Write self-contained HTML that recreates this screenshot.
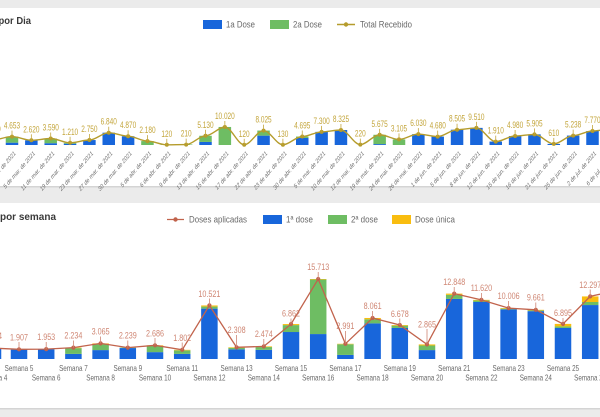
<!DOCTYPE html>
<html><head><meta charset="utf-8"><style>
html,body{margin:0;padding:0;background:#ebebeb;}
svg{display:block;font-family:"Liberation Sans",Arial,sans-serif;}
.tl{font-size:9px;fill:#c3a53a;text-anchor:middle;}
.bl{font-size:9px;fill:#cf8673;text-anchor:middle;}
.xl{font-size:6.8px;fill:#6e6e6e;text-anchor:end;}
.sl{font-size:8.4px;fill:#6a6a6a;text-anchor:middle;}
.lg{font-size:9px;fill:#6a6a6a;}
.tt{font-size:10.5px;font-weight:bold;fill:#3a3a3a;}
</style></head><body>
<svg width="600" height="417" viewBox="0 0 600 417" xmlns="http://www.w3.org/2000/svg">
<rect x="0" y="0" width="600" height="417" fill="#ebebeb"/>
<rect x="-2" y="8" width="610" height="178" fill="#ffffff"/>
<rect x="-2" y="186" width="610" height="1.5" fill="#d4d4d4"/>
<rect x="-2" y="203" width="610" height="205" fill="#ffffff"/>
<rect x="-2" y="408" width="610" height="1.5" fill="#d4d4d4"/>

<!-- ===== TOP CHART ===== -->
<text class="tt" x="-1.5" y="24" textLength="32.5" lengthAdjust="spacingAndGlyphs">por Dia</text>
<rect x="203" y="20" width="19" height="9" fill="#1866db"/>
<text class="lg" x="226" y="27.5" textLength="29" lengthAdjust="spacingAndGlyphs">1a Dose</text>
<rect x="270" y="20" width="19" height="9" fill="#6ebd63"/>
<text class="lg" x="293" y="27.5" textLength="29" lengthAdjust="spacingAndGlyphs">2a Dose</text>
<line x1="337" y1="24.5" x2="355" y2="24.5" stroke="#b59c2c" stroke-width="1.5"/>
<circle cx="346" cy="24.5" r="2.2" fill="#b59c2c"/>
<text class="lg" x="360" y="27.5" textLength="52" lengthAdjust="spacingAndGlyphs">Total Recebido</text>

<g fill="#1866db">
<rect x="5.75" y="142.66" width="12.5" height="2.34"/>
<rect x="25.1" y="140.28" width="12.5" height="4.72"/>
<rect x="44.45" y="143.2" width="12.5" height="1.8"/>
<rect x="63.8" y="143.74" width="12.5" height="1.26"/>
<rect x="83.15" y="140.05" width="12.5" height="4.95"/>
<rect x="102.5" y="132.69" width="12.5" height="12.31"/>
<rect x="121.85" y="136.23" width="12.5" height="8.77"/>
<rect x="199.25" y="141.94" width="12.5" height="3.06"/>
<rect x="257.3" y="135.64" width="12.5" height="9.36"/>
<rect x="296" y="137.98" width="12.5" height="7.02"/>
<rect x="315.35" y="131.86" width="12.5" height="13.14"/>
<rect x="334.7" y="130.01" width="12.5" height="14.99"/>
<rect x="373.4" y="144.1" width="12.5" height="0.9"/>
<rect x="412.1" y="134.15" width="12.5" height="10.85"/>
<rect x="431.45" y="136.58" width="12.5" height="8.42"/>
<rect x="450.8" y="129.69" width="12.5" height="15.31"/>
<rect x="470.15" y="127.88" width="12.5" height="17.12"/>
<rect x="489.5" y="141.56" width="12.5" height="3.44"/>
<rect x="508.85" y="136.04" width="12.5" height="8.96"/>
<rect x="528.2" y="134.37" width="12.5" height="10.63"/>
<rect x="547.55" y="143.9" width="12.5" height="1.1"/>
<rect x="566.9" y="135.57" width="12.5" height="9.43"/>
<rect x="586.25" y="131.01" width="12.5" height="13.99"/>
</g>
<g fill="#6ebd63">
<rect x="5.75" y="136.62" width="12.5" height="6.04"/>
<rect x="44.45" y="138.54" width="12.5" height="4.66"/>
<rect x="63.8" y="142.82" width="12.5" height="0.92"/>
<rect x="141.2" y="141.08" width="12.5" height="3.92"/>
<rect x="160.55" y="144.6" width="12.5" height="0.4"/>
<rect x="179.9" y="144.5" width="12.5" height="0.5"/>
<rect x="199.25" y="135.77" width="12.5" height="6.17"/>
<rect x="218.6" y="126.96" width="12.5" height="18.04"/>
<rect x="257.3" y="130.55" width="12.5" height="5.09"/>
<rect x="296" y="136.55" width="12.5" height="1.43"/>
<rect x="373.4" y="134.78" width="12.5" height="9.32"/>
<rect x="392.75" y="139.41" width="12.5" height="5.59"/>
</g>

<path fill="none" stroke="#b59c2c" stroke-width="1.4" d="M -7.35 139.9 C -0.9 139.9 5.55 136.6 12 136.6 S 24.9 140.3 31.35 140.3 S 44.25 138.5 50.7 138.5 S 63.6 142.8 70.05 142.8 S 82.95 140.0 89.4 140.0 S 102.3 132.7 108.75 132.7 S 121.65 136.2 128.1 136.2 S 141 141.1 147.45 141.1 S 160.35 144.8 166.8 144.8 S 179.7 144.6 186.15 144.6 S 199.05 135.8 205.5 135.8 S 218.4 127.0 224.85 127.0 S 237.75 144.8 244.2 144.8 S 257.1 130.6 263.55 130.6 S 276.45 144.8 282.9 144.8 S 295.8 136.5 302.25 136.5 S 315.15 131.9 321.6 131.9 S 334.5 130.0 340.95 130.0 S 353.85 144.6 360.3 144.6 S 373.2 134.8 379.65 134.8 S 392.55 139.4 399 139.4 S 411.9 134.1 418.35 134.1 S 431.25 136.6 437.7 136.6 S 450.6 129.7 457.05 129.7 S 469.95 127.9 476.4 127.9 S 489.3 141.6 495.75 141.6 S 508.65 136.0 515.1 136.0 S 528 134.4 534.45 134.4 S 547.35 143.9 553.8 143.9 S 566.7 135.6 573.15 135.6 S 586.05 131.0 592.5 131.0 S 605.4 129.0 611.85 129.0"/>
<g fill="#b59c2c">
<circle cx="12" cy="136.6" r="2"/><circle cx="31.35" cy="140.3" r="2"/><circle cx="50.7" cy="138.5" r="2"/><circle cx="70.05" cy="142.8" r="2"/><circle cx="89.4" cy="140" r="2"/><circle cx="108.75" cy="132.7" r="2"/><circle cx="128.1" cy="136.2" r="2"/><circle cx="147.45" cy="141.1" r="2"/><circle cx="166.8" cy="144.8" r="2"/><circle cx="186.15" cy="144.6" r="2"/><circle cx="205.5" cy="135.8" r="2"/><circle cx="224.85" cy="127" r="2"/><circle cx="244.2" cy="144.8" r="2"/><circle cx="263.55" cy="130.6" r="2"/><circle cx="282.9" cy="144.8" r="2"/><circle cx="302.25" cy="136.5" r="2"/><circle cx="321.6" cy="131.9" r="2"/><circle cx="340.95" cy="130" r="2"/><circle cx="360.3" cy="144.6" r="2"/><circle cx="379.65" cy="134.8" r="2"/><circle cx="399" cy="139.4" r="2"/><circle cx="418.35" cy="134.1" r="2"/><circle cx="437.7" cy="136.6" r="2"/><circle cx="457.05" cy="129.7" r="2"/><circle cx="476.4" cy="127.9" r="2"/><circle cx="495.75" cy="141.6" r="2"/><circle cx="515.1" cy="136" r="2"/><circle cx="534.45" cy="134.4" r="2"/><circle cx="553.8" cy="143.9" r="2"/><circle cx="573.15" cy="135.6" r="2"/><circle cx="592.5" cy="131" r="2"/>
</g>
<g stroke="#c3a53a" stroke-width="0.8">
<line x1="12" y1="130.6" x2="12" y2="136.6"/><line x1="31.35" y1="134.3" x2="31.35" y2="140.3"/><line x1="50.7" y1="132.5" x2="50.7" y2="138.5"/><line x1="70.05" y1="136.8" x2="70.05" y2="142.8"/><line x1="89.4" y1="134" x2="89.4" y2="140"/><line x1="108.75" y1="126.7" x2="108.75" y2="132.7"/><line x1="128.1" y1="130.2" x2="128.1" y2="136.2"/><line x1="147.45" y1="135.1" x2="147.45" y2="141.1"/><line x1="166.8" y1="138.8" x2="166.8" y2="144.8"/><line x1="186.15" y1="138.6" x2="186.15" y2="144.6"/><line x1="205.5" y1="129.8" x2="205.5" y2="135.8"/><line x1="224.85" y1="121" x2="224.85" y2="127"/><line x1="244.2" y1="138.8" x2="244.2" y2="144.8"/><line x1="263.55" y1="124.6" x2="263.55" y2="130.6"/><line x1="282.9" y1="138.8" x2="282.9" y2="144.8"/><line x1="302.25" y1="130.5" x2="302.25" y2="136.5"/><line x1="321.6" y1="125.9" x2="321.6" y2="131.9"/><line x1="340.95" y1="124" x2="340.95" y2="130"/><line x1="360.3" y1="138.6" x2="360.3" y2="144.6"/><line x1="379.65" y1="128.8" x2="379.65" y2="134.8"/><line x1="399" y1="133.4" x2="399" y2="139.4"/><line x1="418.35" y1="128.1" x2="418.35" y2="134.1"/><line x1="437.7" y1="130.6" x2="437.7" y2="136.6"/><line x1="457.05" y1="123.7" x2="457.05" y2="129.7"/><line x1="476.4" y1="121.9" x2="476.4" y2="127.9"/><line x1="495.75" y1="135.6" x2="495.75" y2="141.6"/><line x1="515.1" y1="130" x2="515.1" y2="136"/><line x1="534.45" y1="128.4" x2="534.45" y2="134.4"/><line x1="553.8" y1="137.9" x2="553.8" y2="143.9"/><line x1="573.15" y1="129.6" x2="573.15" y2="135.6"/><line x1="592.5" y1="125" x2="592.5" y2="131"/>
</g>
<g>
<text class="tl" transform="translate(-7.35,131.9) scale(0.72,1)">2.840</text>
<text class="tl" transform="translate(12,128.6) scale(0.72,1)">4.653</text>
<text class="tl" transform="translate(31.35,132.3) scale(0.72,1)">2.620</text>
<text class="tl" transform="translate(50.7,130.5) scale(0.72,1)">3.590</text>
<text class="tl" transform="translate(70.05,134.8) scale(0.72,1)">1.210</text>
<text class="tl" transform="translate(89.4,132) scale(0.72,1)">2.750</text>
<text class="tl" transform="translate(108.75,124.7) scale(0.72,1)">6.840</text>
<text class="tl" transform="translate(128.1,128.2) scale(0.72,1)">4.870</text>
<text class="tl" transform="translate(147.45,133.1) scale(0.72,1)">2.180</text>
<text class="tl" transform="translate(166.8,136.8) scale(0.72,1)">120</text>
<text class="tl" transform="translate(186.15,136.6) scale(0.72,1)">210</text>
<text class="tl" transform="translate(205.5,127.8) scale(0.72,1)">5.130</text>
<text class="tl" transform="translate(224.85,119) scale(0.72,1)">10.020</text>
<text class="tl" transform="translate(244.2,136.8) scale(0.72,1)">120</text>
<text class="tl" transform="translate(263.55,122.6) scale(0.72,1)">8.025</text>
<text class="tl" transform="translate(282.9,136.8) scale(0.72,1)">130</text>
<text class="tl" transform="translate(302.25,128.5) scale(0.72,1)">4.695</text>
<text class="tl" transform="translate(321.6,123.9) scale(0.72,1)">7.300</text>
<text class="tl" transform="translate(340.95,122) scale(0.72,1)">8.325</text>
<text class="tl" transform="translate(360.3,136.6) scale(0.72,1)">220</text>
<text class="tl" transform="translate(379.65,126.8) scale(0.72,1)">5.675</text>
<text class="tl" transform="translate(399,131.4) scale(0.72,1)">3.105</text>
<text class="tl" transform="translate(418.35,126.1) scale(0.72,1)">6.030</text>
<text class="tl" transform="translate(437.7,128.6) scale(0.72,1)">4.680</text>
<text class="tl" transform="translate(457.05,121.7) scale(0.72,1)">8.505</text>
<text class="tl" transform="translate(476.4,119.9) scale(0.72,1)">9.510</text>
<text class="tl" transform="translate(495.75,133.6) scale(0.72,1)">1.910</text>
<text class="tl" transform="translate(515.1,128) scale(0.72,1)">4.980</text>
<text class="tl" transform="translate(534.45,126.4) scale(0.72,1)">5.905</text>
<text class="tl" transform="translate(553.8,135.9) scale(0.72,1)">610</text>
<text class="tl" transform="translate(573.15,127.6) scale(0.72,1)">5.238</text>
<text class="tl" transform="translate(592.5,123) scale(0.72,1)">7.770</text>
</g>
<g>
<text class="xl" transform="translate(16,154) scale(0.72,1) rotate(-40)">27 de fev. de 2021</text>
<text class="xl" transform="translate(35.35,154) scale(0.72,1) rotate(-40)">5 de mar. de 2021</text>
<text class="xl" transform="translate(54.7,154) scale(0.72,1) rotate(-40)">11 de mar. de 2021</text>
<text class="xl" transform="translate(74.05,154) scale(0.72,1) rotate(-40)">19 de mar. de 2021</text>
<text class="xl" transform="translate(93.4,154) scale(0.72,1) rotate(-40)">23 de mar. de 2021</text>
<text class="xl" transform="translate(112.75,154) scale(0.72,1) rotate(-40)">27 de mar. de 2021</text>
<text class="xl" transform="translate(132.1,154) scale(0.72,1) rotate(-40)">30 de mar. de 2021</text>
<text class="xl" transform="translate(151.45,154) scale(0.72,1) rotate(-40)">5 de abr. de 2021</text>
<text class="xl" transform="translate(170.8,154) scale(0.72,1) rotate(-40)">6 de abr. de 2021</text>
<text class="xl" transform="translate(190.15,154) scale(0.72,1) rotate(-40)">9 de abr. de 2021</text>
<text class="xl" transform="translate(209.5,154) scale(0.72,1) rotate(-40)">13 de abr. de 2021</text>
<text class="xl" transform="translate(228.85,154) scale(0.72,1) rotate(-40)">15 de abr. de 2021</text>
<text class="xl" transform="translate(248.2,154) scale(0.72,1) rotate(-40)">17 de abr. de 2021</text>
<text class="xl" transform="translate(267.55,154) scale(0.72,1) rotate(-40)">22 de abr. de 2021</text>
<text class="xl" transform="translate(286.9,154) scale(0.72,1) rotate(-40)">23 de abr. de 2021</text>
<text class="xl" transform="translate(306.25,154) scale(0.72,1) rotate(-40)">30 de abr. de 2021</text>
<text class="xl" transform="translate(325.6,154) scale(0.72,1) rotate(-40)">5 de mai. de 2021</text>
<text class="xl" transform="translate(344.95,154) scale(0.72,1) rotate(-40)">10 de mai. de 2021</text>
<text class="xl" transform="translate(364.3,154) scale(0.72,1) rotate(-40)">12 de mai. de 2021</text>
<text class="xl" transform="translate(383.65,154) scale(0.72,1) rotate(-40)">19 de mai. de 2021</text>
<text class="xl" transform="translate(403,154) scale(0.72,1) rotate(-40)">24 de mai. de 2021</text>
<text class="xl" transform="translate(422.35,154) scale(0.72,1) rotate(-40)">26 de mai. de 2021</text>
<text class="xl" transform="translate(441.7,154) scale(0.72,1) rotate(-40)">1 de jun. de 2021</text>
<text class="xl" transform="translate(461.05,154) scale(0.72,1) rotate(-40)">5 de jun. de 2021</text>
<text class="xl" transform="translate(480.4,154) scale(0.72,1) rotate(-40)">8 de jun. de 2021</text>
<text class="xl" transform="translate(499.75,154) scale(0.72,1) rotate(-40)">12 de jun. de 2021</text>
<text class="xl" transform="translate(519.1,154) scale(0.72,1) rotate(-40)">15 de jun. de 2021</text>
<text class="xl" transform="translate(538.45,154) scale(0.72,1) rotate(-40)">16 de jun. de 2021</text>
<text class="xl" transform="translate(557.8,154) scale(0.72,1) rotate(-40)">21 de jun. de 2021</text>
<text class="xl" transform="translate(577.15,154) scale(0.72,1) rotate(-40)">25 de jun. de 2021</text>
<text class="xl" transform="translate(596.5,154) scale(0.72,1) rotate(-40)">2 de jul. de 2021</text>
<text class="xl" transform="translate(615.85,154) scale(0.72,1) rotate(-40)">6 de jul. de 2021</text>
</g>

<!-- ===== BOTTOM CHART ===== -->
<text class="tt" x="0" y="220" textLength="56" lengthAdjust="spacingAndGlyphs">por semana</text>
<line x1="167" y1="219.5" x2="184" y2="219.5" stroke="#c1634c" stroke-width="1.3"/>
<circle cx="175.5" cy="219.5" r="2.2" fill="#c1634c"/>
<text class="lg" x="189" y="222.5" textLength="58" lengthAdjust="spacingAndGlyphs">Doses aplicadas</text>
<rect x="263" y="215" width="19" height="9" fill="#1866db"/>
<text class="lg" x="286" y="222.5" textLength="27" lengthAdjust="spacingAndGlyphs">1ª dose</text>
<rect x="328" y="215" width="19" height="9" fill="#6ebd63"/>
<text class="lg" x="351" y="222.5" textLength="27" lengthAdjust="spacingAndGlyphs">2ª dose</text>
<rect x="392" y="215" width="19" height="9" fill="#f9bd0f"/>
<text class="lg" x="415" y="222.5" textLength="40" lengthAdjust="spacingAndGlyphs">Dose única</text>

<g fill="#1866db">
<rect x="-15.25" y="348.1" width="16.5" height="10.9"/>
<rect x="10.75" y="349.58" width="16.5" height="9.42"/>
<rect x="37.95" y="349.33" width="16.5" height="9.67"/>
<rect x="65.15" y="353.91" width="16.5" height="5.09"/>
<rect x="92.35" y="350.09" width="16.5" height="8.91"/>
<rect x="119.55" y="348.06" width="16.5" height="10.94"/>
<rect x="146.75" y="352.13" width="16.5" height="6.87"/>
<rect x="173.95" y="353.91" width="16.5" height="5.09"/>
<rect x="201.15" y="308.61" width="16.5" height="50.39"/>
<rect x="228.35" y="349.33" width="16.5" height="9.67"/>
<rect x="255.55" y="349.84" width="16.5" height="9.16"/>
<rect x="282.75" y="332.02" width="16.5" height="26.98"/>
<rect x="309.95" y="334.06" width="16.5" height="24.94"/>
<rect x="337.15" y="354.93" width="16.5" height="4.07"/>
<rect x="364.35" y="323.37" width="16.5" height="35.63"/>
<rect x="391.55" y="327.95" width="16.5" height="31.05"/>
<rect x="418.75" y="350.09" width="16.5" height="8.91"/>
<rect x="445.95" y="298.94" width="16.5" height="60.06"/>
<rect x="473.15" y="301.99" width="16.5" height="57.01"/>
<rect x="500.35" y="309.37" width="16.5" height="49.63"/>
<rect x="527.55" y="311.16" width="16.5" height="47.84"/>
<rect x="554.75" y="327.95" width="16.5" height="31.05"/>
<rect x="581.95" y="305.05" width="16.5" height="53.95"/>
</g>
<g fill="#6ebd63">
<rect x="10.75" y="349.29" width="16.5" height="0.29"/>
<rect x="37.95" y="349.06" width="16.5" height="0.27"/>
<rect x="65.15" y="348.14" width="16.5" height="5.77"/>
<rect x="92.35" y="344.49" width="16.5" height="5.6"/>
<rect x="119.55" y="347.61" width="16.5" height="0.45"/>
<rect x="146.75" y="346.02" width="16.5" height="6.11"/>
<rect x="173.95" y="350.35" width="16.5" height="3.56"/>
<rect x="201.15" y="306.57" width="16.5" height="2.04"/>
<rect x="228.35" y="347.8" width="16.5" height="1.53"/>
<rect x="255.55" y="347.04" width="16.5" height="2.8"/>
<rect x="282.75" y="325.09" width="16.5" height="6.93"/>
<rect x="309.95" y="279.53" width="16.5" height="54.53"/>
<rect x="337.15" y="344.24" width="16.5" height="10.69"/>
<rect x="364.35" y="319.3" width="16.5" height="4.07"/>
<rect x="391.55" y="325.66" width="16.5" height="2.29"/>
<rect x="418.75" y="345.51" width="16.5" height="4.58"/>
<rect x="445.95" y="294.87" width="16.5" height="4.07"/>
<rect x="473.15" y="300.46" width="16.5" height="1.53"/>
<rect x="500.35" y="308.61" width="16.5" height="0.76"/>
<rect x="527.55" y="310.4" width="16.5" height="0.76"/>
<rect x="554.75" y="326.42" width="16.5" height="1.53"/>
<rect x="581.95" y="302" width="16.5" height="3.05"/>
</g>
<g fill="#f9bd0f">
<rect x="65.15" y="347.63" width="16.5" height="0.51"/>
<rect x="92.35" y="343.4" width="16.5" height="1.09"/>
<rect x="146.75" y="345.33" width="16.5" height="0.69"/>
<rect x="173.95" y="349.83" width="16.5" height="0.52"/>
<rect x="201.15" y="305.45" width="16.5" height="1.12"/>
<rect x="228.35" y="347.25" width="16.5" height="0.55"/>
<rect x="255.55" y="346.41" width="16.5" height="0.63"/>
<rect x="282.75" y="324.07" width="16.5" height="1.02"/>
<rect x="309.95" y="279.02" width="16.5" height="0.51"/>
<rect x="337.15" y="343.78" width="16.5" height="0.46"/>
<rect x="364.35" y="317.97" width="16.5" height="1.33"/>
<rect x="391.55" y="325.01" width="16.5" height="0.65"/>
<rect x="418.75" y="344.42" width="16.5" height="1.09"/>
<rect x="445.95" y="293.61" width="16.5" height="1.26"/>
<rect x="473.15" y="299.85" width="16.5" height="0.61"/>
<rect x="500.35" y="308.07" width="16.5" height="0.54"/>
<rect x="527.55" y="309.84" width="16.5" height="0.56"/>
<rect x="554.75" y="323.9" width="16.5" height="2.52"/>
<rect x="581.95" y="296.42" width="16.5" height="5.58"/>
</g>

<polyline fill="none" stroke="#c1634c" stroke-width="1.3" points="-7,348.1 19,349.3 46.2,349.1 73.4,347.6 100.6,343.4 127.8,347.6 155,345.3 182.2,349.8 209.4,305.4 236.6,347.3 263.8,346.4 291,324.1 318.2,279 345.4,343.8 372.6,318 399.8,325 427,344.4 454.2,293.6 481.4,299.9 508.6,308.1 535.8,309.8 563,323.9 590.2,296.4 617.4,290.3"/>
<g fill="#c1634c">
<circle cx="19" cy="349.3" r="2.1"/><circle cx="46.2" cy="349.1" r="2.1"/><circle cx="73.4" cy="347.6" r="2.1"/><circle cx="100.6" cy="343.4" r="2.1"/><circle cx="127.8" cy="347.6" r="2.1"/><circle cx="155" cy="345.3" r="2.1"/><circle cx="182.2" cy="349.8" r="2.1"/><circle cx="209.4" cy="305.4" r="2.1"/><circle cx="236.6" cy="347.3" r="2.1"/><circle cx="263.8" cy="346.4" r="2.1"/><circle cx="291" cy="324.1" r="2.1"/><circle cx="318.2" cy="279" r="2.1"/><circle cx="345.4" cy="343.8" r="2.1"/><circle cx="372.6" cy="318" r="2.1"/><circle cx="399.8" cy="325" r="2.1"/><circle cx="427" cy="344.4" r="2.1"/><circle cx="454.2" cy="293.6" r="2.1"/><circle cx="481.4" cy="299.9" r="2.1"/><circle cx="508.6" cy="308.1" r="2.1"/><circle cx="535.8" cy="309.8" r="2.1"/><circle cx="563" cy="323.9" r="2.1"/><circle cx="590.2" cy="296.4" r="2.1"/>
</g>
<g stroke="#cf8673" stroke-width="0.8">
<line x1="19" y1="342" x2="19" y2="349.3"/><line x1="46.2" y1="342" x2="46.2" y2="349.1"/><line x1="73.4" y1="340.5" x2="73.4" y2="347.6"/><line x1="100.6" y1="336.5" x2="100.6" y2="343.4"/><line x1="127.8" y1="340.5" x2="127.8" y2="347.6"/><line x1="155" y1="338" x2="155" y2="345.3"/><line x1="182.2" y1="342.5" x2="182.2" y2="349.8"/><line x1="209.4" y1="298.5" x2="209.4" y2="305.4"/><line x1="236.6" y1="335" x2="236.6" y2="347.3"/><line x1="263.8" y1="339" x2="263.8" y2="346.4"/><line x1="291" y1="318.5" x2="291" y2="324.1"/><line x1="318.2" y1="272" x2="318.2" y2="279"/><line x1="345.4" y1="331" x2="345.4" y2="343.8"/><line x1="372.6" y1="311" x2="372.6" y2="318"/><line x1="399.8" y1="318.5" x2="399.8" y2="325"/><line x1="427" y1="329" x2="427" y2="344.4"/><line x1="454.2" y1="287" x2="454.2" y2="293.6"/><line x1="481.4" y1="293" x2="481.4" y2="299.9"/><line x1="508.6" y1="301" x2="508.6" y2="308.1"/><line x1="535.8" y1="302.5" x2="535.8" y2="309.8"/><line x1="563" y1="318" x2="563" y2="323.9"/><line x1="590.2" y1="289.5" x2="590.2" y2="296.4"/>
</g>
<g>
<text class="bl" transform="translate(-7,339.1) scale(0.8,1)">2.144</text>
<text class="bl" transform="translate(19,340.3) scale(0.8,1)">1.907</text>
<text class="bl" transform="translate(46.2,340.1) scale(0.8,1)">1.953</text>
<text class="bl" transform="translate(73.4,338.6) scale(0.8,1)">2.234</text>
<text class="bl" transform="translate(100.6,334.6) scale(0.8,1)">3.065</text>
<text class="bl" transform="translate(127.8,338.6) scale(0.8,1)">2.239</text>
<text class="bl" transform="translate(155,336.5) scale(0.8,1)">2.686</text>
<text class="bl" transform="translate(182.2,340.8) scale(0.8,1)">1.802</text>
<text class="bl" transform="translate(209.4,296.8) scale(0.8,1)">10.521</text>
<text class="bl" transform="translate(236.6,333.2) scale(0.8,1)">2.308</text>
<text class="bl" transform="translate(263.8,337.2) scale(0.8,1)">2.474</text>
<text class="bl" transform="translate(291,316.5) scale(0.8,1)">6.862</text>
<text class="bl" transform="translate(318.2,270) scale(0.8,1)">15.713</text>
<text class="bl" transform="translate(345.4,329) scale(0.8,1)">2.991</text>
<text class="bl" transform="translate(372.6,309) scale(0.8,1)">8.061</text>
<text class="bl" transform="translate(399.8,317) scale(0.8,1)">6.678</text>
<text class="bl" transform="translate(427,327.5) scale(0.8,1)">2.865</text>
<text class="bl" transform="translate(454.2,285) scale(0.8,1)">12.848</text>
<text class="bl" transform="translate(481.4,291) scale(0.8,1)">11.620</text>
<text class="bl" transform="translate(508.6,299.1) scale(0.8,1)">10.006</text>
<text class="bl" transform="translate(535.8,300.6) scale(0.8,1)">9.661</text>
<text class="bl" transform="translate(563,316) scale(0.8,1)">6.895</text>
<text class="bl" transform="translate(590.2,288) scale(0.8,1)">12.297</text>
</g>
<g>
<text class="sl" transform="translate(19,371) scale(0.75,1)">Semana 5</text>
<text class="sl" transform="translate(73.4,371) scale(0.75,1)">Semana 7</text>
<text class="sl" transform="translate(127.8,371) scale(0.75,1)">Semana 9</text>
<text class="sl" transform="translate(182.2,371) scale(0.75,1)">Semana 11</text>
<text class="sl" transform="translate(236.6,371) scale(0.75,1)">Semana 13</text>
<text class="sl" transform="translate(291,371) scale(0.75,1)">Semana 15</text>
<text class="sl" transform="translate(345.4,371) scale(0.75,1)">Semana 17</text>
<text class="sl" transform="translate(399.8,371) scale(0.75,1)">Semana 19</text>
<text class="sl" transform="translate(454.2,371) scale(0.75,1)">Semana 21</text>
<text class="sl" transform="translate(508.6,371) scale(0.75,1)">Semana 23</text>
<text class="sl" transform="translate(563,371) scale(0.75,1)">Semana 25</text>
<text class="sl" transform="translate(617.4,371) scale(0.75,1)">Semana 27</text>
<text class="sl" transform="translate(-7,380.5) scale(0.75,1)">Semana 4</text>
<text class="sl" transform="translate(46.2,380.5) scale(0.75,1)">Semana 6</text>
<text class="sl" transform="translate(100.6,380.5) scale(0.75,1)">Semana 8</text>
<text class="sl" transform="translate(155,380.5) scale(0.75,1)">Semana 10</text>
<text class="sl" transform="translate(209.4,380.5) scale(0.75,1)">Semana 12</text>
<text class="sl" transform="translate(263.8,380.5) scale(0.75,1)">Semana 14</text>
<text class="sl" transform="translate(318.2,380.5) scale(0.75,1)">Semana 16</text>
<text class="sl" transform="translate(372.6,380.5) scale(0.75,1)">Semana 18</text>
<text class="sl" transform="translate(427,380.5) scale(0.75,1)">Semana 20</text>
<text class="sl" transform="translate(481.4,380.5) scale(0.75,1)">Semana 22</text>
<text class="sl" transform="translate(535.8,380.5) scale(0.75,1)">Semana 24</text>
<text class="sl" transform="translate(590.2,380.5) scale(0.75,1)">Semana 26</text>
</g>
</svg>
</body></html>
